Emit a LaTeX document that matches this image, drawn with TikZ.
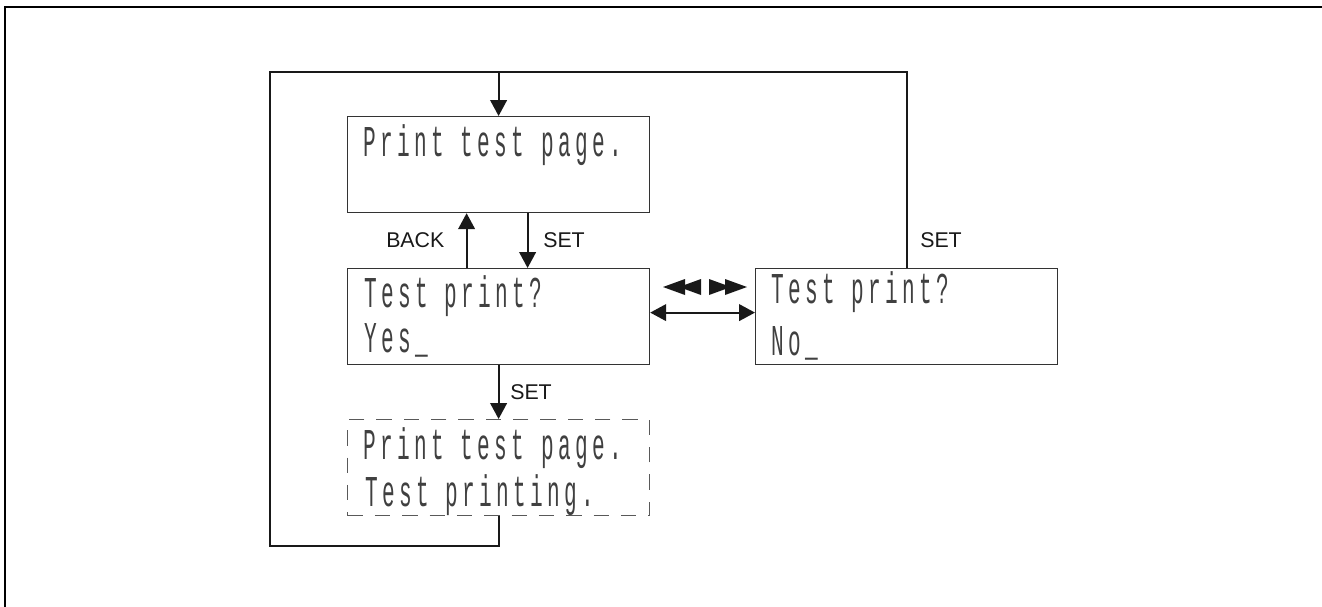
\documentclass[tikz,border=0pt]{standalone}
\usepackage{fontspec}
\setmainfont{Liberation Sans}
\newfontfamily\lcdfont[FakeStretch=0.48,LetterSpace=9.8]{Liberation Mono}
\usetikzlibrary{arrows.meta,calc}
\begin{document}
\begin{tikzpicture}[x=0.75pt,y=-0.75pt,
  box/.style={draw=black!80,line width=0.9pt,inner sep=0pt,anchor=north west,minimum width=226.5pt,minimum height=72pt},
  dbox/.style={box,draw=black!65,dash pattern=on 11.5pt off 9pt},
  conn/.style={draw=black!90,line width=1.6pt},
  arr/.style={conn,-{Triangle[length=12pt,width=12.5pt]}},
  darr/.style={conn,{Triangle[length=12pt,width=12.5pt]}-{Triangle[length=12pt,width=12.5pt]}},
  lcd/.style={anchor=base west,inner sep=0pt,font=\lcdfont\fontsize{33}{34}\selectfont,text=black!75},
  lab/.style={anchor=base west,inner sep=0pt,font=\fontsize{16}{18}\selectfont,text=black!90},
  tri/.style={fill=black!90}]
\useasboundingbox (0,0) rectangle (1322,607);
% outer partial frame
\draw[line width=2pt] (5,607) -- (5,7) -- (1322,7);
% boxes
\node[box] (A) at (347,116) {};
\node[box] (B) at (347,268) {};
\node[box] (C) at (755,268) {};
\node[dbox] (D) at (347,419) {};
% texts
\node[lcd] (a1) at (363,156) {Print test page.};
\node[lcd] (b1) at (364,307) {Test print?};
\node[lcd] (b2) at (364,352) {Yes\_};
\node[lcd] (c1) at (771,303) {Test print?};
\node[lcd] (c2) at (771,355) {No\_};
\node[lcd] (d1) at (363,459) {Print test page.};
\node[lcd] (d2) at (365,506) {Test printing.};
% loop
\coordinate (lb) at (270,546);
\coordinate (rt) at (907,72);
\draw[conn] (D.south) |- (lb) |- (rt) -- (rt |- C.north);
\draw[arr] (A.north |- rt) -- (A.north);
% back / set
\draw[arr] ($(B.north)+(-32,0)$) -- ($(A.south)+(-32,0)$);
\draw[arr] ($(A.south)+(29,0)$) -- ($(B.north)+(29,0)$);
\draw[arr] (B.south) -- (D.north);
\draw[darr] ($(B.east)+(0,-4)$) -- ($(C.west)+(0,-4)$);
% labels
\node[lab] (lback) at (386,247) {BACK};
\node[lab] (lset1) at (543,247) {SET};
\node[lab] (lset2) at (510,399) {SET};
\node[lab] (lset3) at (920,247) {SET};
% left / right symbols
\fill[tri] (663,287) -- (685,279) -- (685,295) -- cycle;
\fill[tri] (679,287) -- (701,279) -- (701,295) -- cycle;
\fill[tri] (747,287) -- (725,279) -- (725,295) -- cycle;
\fill[tri] (731,287) -- (709,279) -- (709,295) -- cycle;
\end{tikzpicture}
\end{document}
